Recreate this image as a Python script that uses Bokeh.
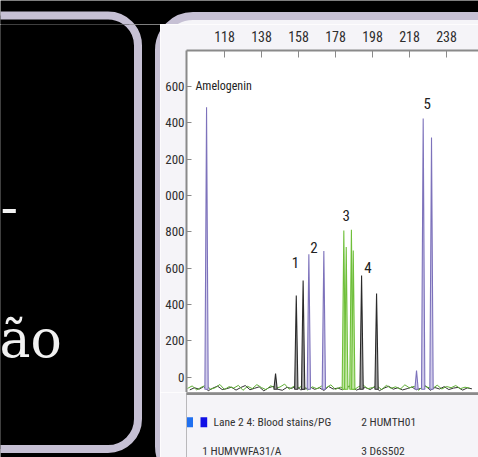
from bokeh.plotting import figure
from bokeh.models import BoxAnnotation, Label, FixedTicker, ColumnDataSource, Range1d
from bokeh.layouts import row, column
from bokeh.embed import file_html
from bokeh.resources import INLINE

# ---------------- data ----------------
x_ticks = [118, 138, 158, 178, 198, 218, 238, 258]
y_ticks = [0, 200, 400, 600, 800, 1000, 1200, 1400, 1600]
y_tick_labels = ["0", "200", "400", "600", "800", "000", "200", "400", "600"]

peak_pos = [108.3, 156.8, 160.5, 163.6, 171.7, 182.5, 183.8, 186.6, 187.6, 192.1, 200.2, 221.8, 225.4, 229.9, 145.6]
peak_height = [1486, 450, 532, 677, 695, 808, 716, 811, 697, 560, 461, 37, 1424, 1319, 20]
peak_kind = ["purple", "black", "black", "purple", "purple", "green", "green", "green", "green",
             "black", "black", "purple", "purple", "purple", "black"]

marker_text = ["Amelogenin", "1", "2", "3", "4", "5"]
marker_x = [102.3, 156.4, 166.3, 183.8, 195.5, 227.6]
marker_y = [1600, 633, 715, 890, 605, 1505]

green_noise = [-62, -48, -70, -55, -44, -66, -58, -40, -68, -52, -60, -45, -72, -50, -63, -41,
               -57, -69, -47, -61, -54, -38, -66, -50, -59, -46, -71, -53, -64, -49, -58, -42,
               -67, -55, -60, -48, -70, -52, -44, -63, -57, -49, -68, -45, -61, -53, -66, -42,
               -59, -50, -72, -47, -56, -62, -44, -65, -51, -58, -46, -63, -55, -60]
black_noise = [-70, -58, -66, -52, -74, -60, -49, -68, -63, -55, -71, -57, -46, -69, -61, -53,
               -75, -59, -50, -66, -72, -56, -62, -48, -70, -64, -53, -67, -58, -73, -51, -65,
               -60, -69, -55, -47, -71, -62, -57, -68, -52, -74, -60, -50, -66, -58, -70, -63,
               -54, -69, -61, -48, -72, -57, -65, -52, -68, -60, -56, -71, -59, -64]

legend_text = ["Lane 2 4: Blood stains/PG", "2  HUMTH01", "1  HUMVWFA31/A", "3  D6S502"]
slide_text = ["-", "ão"]

# ---------------- styles ----------------
COND = "Roboto Condensed"
LAV = "#c6c0d4"
PANEL = "#f5f4f8"
AXIS_GREY = "#8a8a8a"
kind_line = {"purple": "#7d72bb", "black": "#2b2b2b", "green": "#6fbf3a"}
kind_fill = {"purple": "#cfcaea", "black": "#a0a0a0", "green": "#c0e6a2"}
BASE = -66
W, H = 478, 457
XL = 160          # width of the left block
TOP_H = 24        # top strip height
FRAME_L, FRAME_T, FRAME_B = 186, 50, 392


def panels(f):
    # slide panels, in page pixel coordinates
    f.add_layout(BoxAnnotation(left=-80, right=137.5, top=15, bottom=448.5,
                               fill_color="black", fill_alpha=1, line_color=LAV, line_width=8,
                               line_alpha=1, border_radius=30, level="underlay"))
    f.add_layout(BoxAnnotation(left=158.5, right=900, top=15.5, bottom=480,
                               fill_color=PANEL, fill_alpha=1, line_color=LAV, line_width=8,
                               line_alpha=1, border_radius=34, level="underlay"))


def deco(w, h, x0, x1, y0, y1, left_border=0, fill="black"):
    f = figure(width=w, height=h, output_backend="svg", toolbar_location=None,
               x_range=Range1d(x0, x1), y_range=Range1d(y1, y0),
               x_axis_type=None, y_axis_type=None, min_border=0,
               min_border_left=left_border, min_border_right=0, min_border_top=0, min_border_bottom=0,
               background_fill_color="black", border_fill_color=fill, outline_line_color=None)
    f.grid.visible = False
    panels(f)
    return f


# top strip across the whole page
top = deco(W, TOP_H, 0, W, 0, TOP_H)

# left block below it
left = deco(XL, H - TOP_H, 0, XL, TOP_H, H)
left.add_layout(Label(x=0, y=205, text=slide_text[0], text_font="DejaVu Serif", text_font_size="52px",
                      text_color="#f2f2f2", text_baseline="middle", text_align="left"))
left.add_layout(Label(x=-1, y=338, text=slide_text[1], text_font="DejaVu Serif", text_font_size="52px",
                      text_color="#f2f2f2", text_baseline="middle", text_align="left"))

# chart
p = figure(width=W - XL, height=FRAME_B - TOP_H, output_backend="svg", toolbar_location=None,
           x_range=(97.46, 255.3), y_range=(-84.2, 1798), x_axis_location="above",
           min_border_left=FRAME_L - XL, min_border_right=0, min_border_top=FRAME_T - TOP_H,
           min_border_bottom=0,
           border_fill_color=PANEL, background_fill_color="white", outline_line_color=None)
p.grid.visible = False

nx_g = [98 + 2.5 * i for i in range(len(green_noise))]
nx_b = [99.25 + 2.5 * i for i in range(len(black_noise))]
p.line(nx_b, black_noise, line_color="#333333", line_width=1)
p.line(nx_g, green_noise, line_color="#5fae35", line_width=1)

xs, ys, lc, fc = [], [], [], []
for pos, h, k in zip(peak_pos, peak_height, peak_kind):
    xs.append([pos - 0.9, pos, pos + 0.9])
    ys.append([BASE, h, BASE])
    lc.append(kind_line[k])
    fc.append(kind_fill[k])
src = ColumnDataSource(dict(xs=xs, ys=ys, lc=lc, fc=fc))
p.patches("xs", "ys", source=src, line_color="lc", fill_color="fc", line_width=1.1)

xa = p.xaxis[0]
xa.ticker = FixedTicker(ticks=x_ticks)
xa.major_tick_in = 7
xa.major_tick_out = 0
xa.minor_tick_line_color = None
xa.axis_line_color = AXIS_GREY
xa.axis_line_width = 2
xa.major_tick_line_color = AXIS_GREY
xa.major_label_text_font = COND
xa.major_label_text_font_size = "14px"
xa.major_label_text_color = "#2e2e2e"
xa.major_label_standoff = 9

ya = p.yaxis[0]
ya.ticker = FixedTicker(ticks=y_ticks)
ya.major_label_overrides = {t: s for t, s in zip(y_ticks, y_tick_labels)}
ya.major_tick_in = 5
ya.major_tick_out = 0
ya.minor_tick_line_color = None
ya.axis_line_color = AXIS_GREY
ya.axis_line_width = 2
ya.major_tick_line_color = AXIS_GREY
ya.major_label_text_font = COND
ya.major_label_text_font_size = "13px"
ya.major_label_text_color = "#2e2e2e"
ya.major_label_standoff = 2

for t, x, y in zip(marker_text, marker_x, marker_y):
    p.add_layout(Label(x=x, y=y, text=t, text_font=COND,
                       text_font_size="12px" if t == "Amelogenin" else "15px",
                       text_color="#222222", text_baseline="middle",
                       text_align="left" if t == "Amelogenin" else "center"))

# legend strip under the chart (frame aligned with the chart frame)
bot = deco(W - XL, H - FRAME_B, FRAME_L, W, FRAME_B, H, left_border=FRAME_L - XL, fill=PANEL)
bot.add_layout(BoxAnnotation(left=FRAME_L - 1, right=600, top=391.5, bottom=394.5, fill_color=AXIS_GREY,
                             fill_alpha=1, line_color=None, level="overlay"))
bot.add_layout(BoxAnnotation(left=186.5, right=192.5, top=416.7, bottom=426.7, fill_color="#2070f0",
                             fill_alpha=1, line_color=None, level="overlay"))
bot.add_layout(BoxAnnotation(left=200.0, right=206.7, top=416.7, bottom=426.7, fill_color="#1010e6",
                             fill_alpha=1, line_color=None, level="overlay"))
legend_pos = [(213, 421.7), (360.7, 421.0), (201.7, 450.0), (360.7, 450.0)]
for t, (x, y) in zip(legend_text, legend_pos):
    bot.add_layout(Label(x=x, y=y, text=t, text_font=COND, text_font_size="11.5px",
                         text_color="#333333", text_baseline="middle", text_align="left"))

layout = column(top, row(left, column(p, bot, spacing=0), spacing=0), spacing=0)
open("out.html", "w").write(file_html(layout, INLINE))
